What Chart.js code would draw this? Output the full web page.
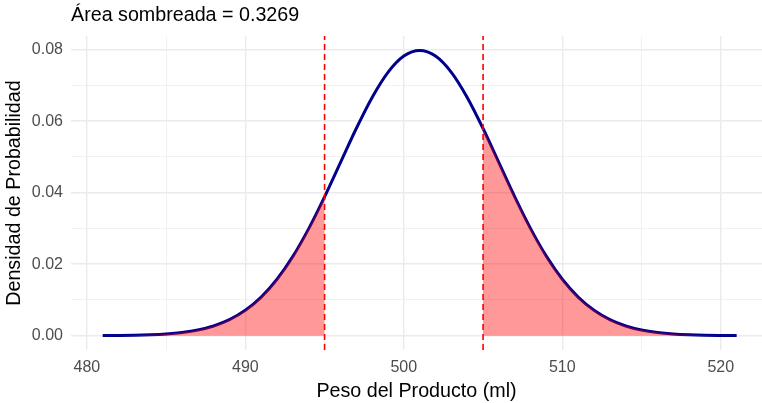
<!DOCTYPE html>
<html>
<head>
<meta charset="utf-8">
<script src="https://cdn.jsdelivr.net/npm/chart.js@4.4.1/dist/chart.umd.min.js"></script>
<style>
  html, body { margin: 0; padding: 0; background: #fff; }
  #wrap { width: 762px; height: 403px; }
</style>
</head>
<body>
<div id="wrap"><canvas id="chart"></canvas></div>
<script>
// Peso del producto (ml) and the density
const pesos = [481, 482, 483, 484, 485, 486, 487, 488, 489, 490,
  491, 492, 493, 494, 495, 496, 497, 498, 499, 500,
  501, 502, 503, 504, 505, 506, 507, 508, 509, 510,
  511, 512, 513, 514, 515, 516, 517, 518, 519, 520, 521];
const densidad = [0.00003, 0.00006, 0.00012, 0.00025, 0.00048, 0.00089, 0.00158, 0.00272, 0.00448, 0.00709,
  0.01080, 0.01579, 0.02218, 0.02995, 0.03884, 0.04839, 0.05794, 0.06664, 0.07366, 0.07821,
  0.07979, 0.07821, 0.07366, 0.06664, 0.05794, 0.04839, 0.03884, 0.02995, 0.02218, 0.01579,
  0.01080, 0.00709, 0.00448, 0.00272, 0.00158, 0.00089, 0.00048, 0.00025, 0.00012, 0.00006, 0.00003];

// límites de la zona no sombreada
const limites = [495, 505];
const tituloArea = 'Área sombreada = 0.3269';

const xMajor = [480, 490, 500, 510, 520];
const xMinor = [485, 495, 505, 515];
const yMajor = [0, 0.02, 0.04, 0.06, 0.08];
const yMinor = [0.01, 0.03, 0.05, 0.07];

const xMin = 479, xMax = 522.6;
const yMin = -0.004, yMax = 0.0838;

const FONT = 'Liberation Sans, Arial, sans-serif';

const curva = pesos.map((x, i) => ({ x, y: densidad[i] }));
const colaIzq = curva.filter(p => p.x <= limites[0]);
const colaDer = curva.filter(p => p.x >= limites[1]);

const vlineSets = limites.map(v => ({
  data: [{ x: v, y: yMin }, { x: v, y: yMax }],
  borderColor: '#ff0000',
  borderWidth: 1.6,
  borderDash: [6, 4],
  pointRadius: 0,
  fill: false,
}));

const tailStyle = {
  backgroundColor: 'rgba(255,0,0,0.4)',
  borderWidth: 0,
  pointRadius: 0,
  fill: 'origin',
  cubicInterpolationMode: 'monotone',
};

const isMajor = (arr, v) => arr.some(m => Math.abs(m - v) < 1e-9);

const setTicks = list => scale => {
  scale.ticks = list.slice().sort((a, b) => a - b).map(v => ({ value: v }));
};

const gridOpts = major => ({
  color: '#ebebeb',
  lineWidth: ctx => (ctx.tick && isMajor(major, ctx.tick.value) ? 1.4 : 0.7),
  drawTicks: false,
});

new Chart(document.getElementById('chart'), {
  type: 'line',
  data: {
    datasets: [
      ...vlineSets,
      { ...tailStyle, data: colaIzq },
      { ...tailStyle, data: colaDer },
      {
        data: curva,
        borderColor: '#00008b',
        borderWidth: 3,
        pointRadius: 0,
        fill: false,
        cubicInterpolationMode: 'monotone',
      },
    ],
  },
  options: {
    responsive: true,
    maintainAspectRatio: false,
    animation: false,
    layout: { padding: 0 },
    plugins: {
      legend: { display: false },
      tooltip: { enabled: false },
      title: {
        display: true,
        text: tituloArea,
        align: 'start',
        fullSize: false,
        color: '#000',
        font: { family: FONT, size: 19.7, weight: 'normal' },
        padding: { top: 4, bottom: 8.4 },
      },
    },
    scales: {
      x: {
        type: 'linear',
        min: xMin,
        max: xMax,
        afterBuildTicks: setTicks([...xMajor, ...xMinor]),
        afterFit: s => { s.height = 53; },
        grid: gridOpts(xMajor),
        border: { display: false },
        ticks: {
          padding: 8,
          color: '#4d4d4d',
          font: { family: FONT, size: 16 },
          maxRotation: 0,
          autoSkip: false,
          callback: v => (isMajor(xMajor, v) ? String(v) : ''),
        },
        title: {
          display: true,
          text: 'Peso del Producto (ml)',
          color: '#000',
          font: { family: FONT, size: 19.7 },
          padding: { top: 0, bottom: 0 },
        },
      },
      y: {
        type: 'linear',
        min: yMin,
        max: yMax,
        afterBuildTicks: setTicks([...yMajor, ...yMinor]),
        afterFit: s => { s.width = 71; },
        grid: gridOpts(yMajor),
        border: { display: false },
        ticks: {
          padding: 8,
          color: '#4d4d4d',
          font: { family: FONT, size: 16 },
          autoSkip: false,
          callback: v => (isMajor(yMajor, v) ? v.toFixed(2) : ''),
        },
        title: {
          display: true,
          text: 'Densidad de Probabilidad',
          color: '#000',
          font: { family: FONT, size: 19.7 },
          padding: { top: 3, bottom: 0 },
        },
      },
    },
  },
});
</script>
</body>
</html>
